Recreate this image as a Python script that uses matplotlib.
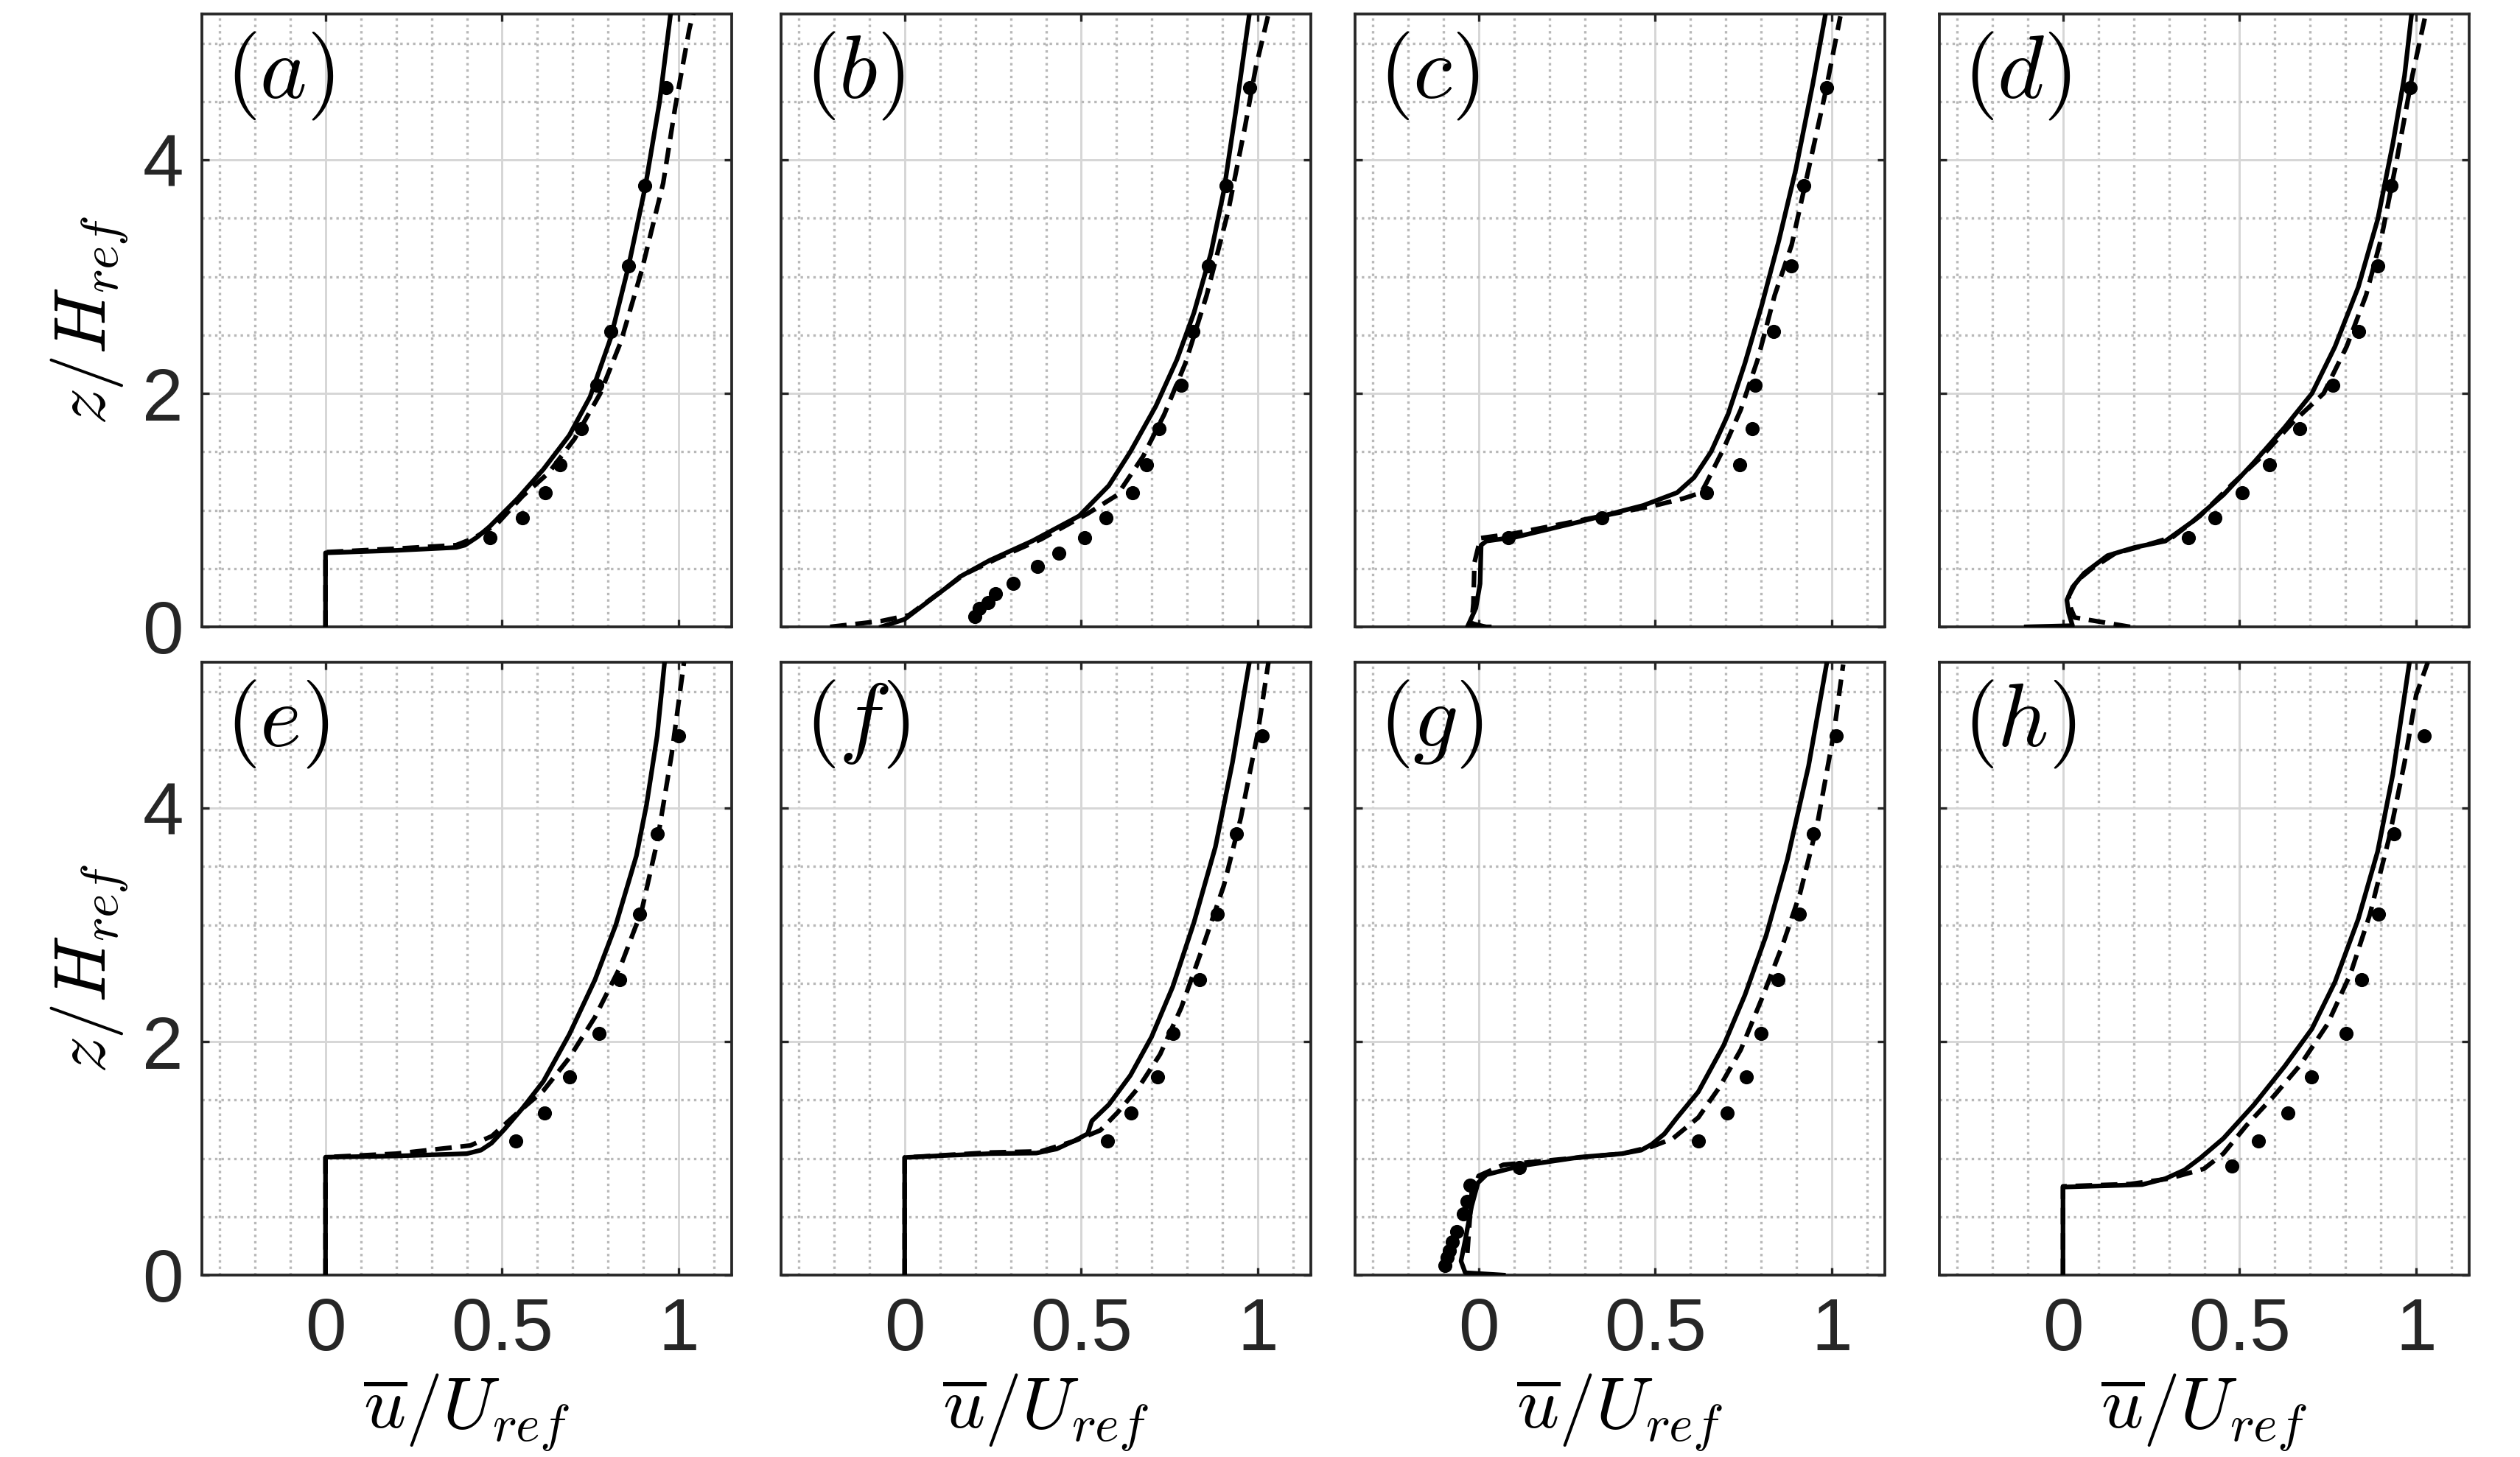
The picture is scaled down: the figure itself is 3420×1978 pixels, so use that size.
import numpy as np
import matplotlib
matplotlib.use("Agg")
import matplotlib.pyplot as plt
from matplotlib.ticker import MultipleLocator

plt.rcParams['font.family'] = ['Liberation Sans', 'DejaVu Sans']
plt.rcParams['mathtext.fontset'] = 'cm'

# ---- data (u/Uref, z/Href) ----
# experimental heights (common measurement levels)
z_exp = [4.62, 3.78, 3.09, 2.53, 2.07, 1.70, 1.39, 1.15, 0.935, 0.765,
         0.634, 0.518, 0.373, 0.283, 0.21, 0.156, 0.09]
z_exp_g = [4.62, 3.78, 3.09, 2.53, 2.07, 1.70, 1.39, 1.15, 0.924, 0.772,
           0.634, 0.525, 0.373, 0.283, 0.21, 0.149, 0.083]

# (a)
a_sol_u = [0, 0, 0.2, 0.37, 0.395, 0.43, 0.465, 0.544, 0.617, 0.69, 0.749, 0.807, 0.858, 0.906, 0.946, 0.977]
a_sol_z = [0, 0.634, 0.655, 0.68, 0.70, 0.77, 0.86, 1.10, 1.35, 1.64, 1.97, 2.47, 3.09, 3.78, 4.50, 5.25]
a_das_u = [0, 0, 0.2, 0.37, 0.42, 0.485, 0.558, 0.632, 0.705, 0.778, 0.836, 0.895, 0.956, 0.99, 1.03, 1.045]
a_das_z = [0, 0.64, 0.67, 0.70, 0.76, 0.88, 1.12, 1.32, 1.61, 2.0, 2.44, 3.05, 3.80, 4.45, 5.12, 5.3]
a_exp_u = [0.965, 0.904, 0.858, 0.807, 0.768, 0.725, 0.664, 0.623, 0.557, 0.465]

# (b)
b_sol_u = [-0.066, 0, 0.072, 0.12, 0.157, 0.241, 0.361, 0.494, 0.578, 0.639, 0.711, 0.771, 0.819, 0.867, 0.904, 0.94, 0.976]
b_sol_z = [0, 0.065, 0.23, 0.34, 0.43, 0.57, 0.735, 0.95, 1.21, 1.50, 1.89, 2.29, 2.69, 3.20, 3.74, 4.47, 5.25]
b_das_u = [-0.211, -0.066, 0.012, 0.084, 0.169, 0.265, 0.386, 0.518, 0.602, 0.675, 0.735, 0.795, 0.855, 0.916, 0.964, 0.994, 1.03]
b_das_z = [0, 0.05, 0.10, 0.26, 0.45, 0.59, 0.75, 0.97, 1.13, 1.46, 1.82, 2.26, 2.84, 3.56, 4.29, 4.79, 5.25]
b_exp_u = [0.976, 0.910, 0.861, 0.817, 0.783, 0.720, 0.684, 0.645, 0.570, 0.510,
           0.436, 0.376, 0.308, 0.258, 0.237, 0.211, 0.199]

# (c)
c_sol_u = [0.03, -0.032, -0.008, 0.004, 0.007, 0.022, 0.106, 0.286, 0.466, 0.562, 0.61, 0.658, 0.706, 0.754, 0.802, 0.85, 0.898, 0.946, 0.982]
c_sol_z = [0.0, 0.0, 0.16, 0.37, 0.70, 0.735, 0.77, 0.90, 1.04, 1.15, 1.28, 1.50, 1.82, 2.26, 2.76, 3.31, 3.92, 4.65, 5.25]
c_das_u = [0.02, -0.02, -0.015, -0.012, 0.005, 0.1, 0.3, 0.5, 0.58, 0.63, 0.646, 0.694, 0.742, 0.79, 0.838, 0.886, 0.934, 0.982, 1.024]
c_das_z = [0.0, 0.03, 0.2, 0.55, 0.76, 0.80, 0.92, 1.04, 1.10, 1.15, 1.24, 1.53, 1.86, 2.29, 2.84, 3.27, 3.92, 4.58, 5.23]
c_exp_u = [0.986, 0.920, 0.886, 0.834, 0.782, 0.774, 0.740, 0.646, 0.348, 0.084]

# (d)
d_sol_u = [-0.104, 0.027, 0.016, 0.011, 0.027, 0.06, 0.126, 0.202, 0.29, 0.366, 0.454, 0.541, 0.628, 0.705, 0.77, 0.836, 0.891, 0.934, 0.967, 0.987]
d_sol_z = [0, 0.01, 0.12, 0.23, 0.34, 0.46, 0.61, 0.68, 0.735, 0.90, 1.13, 1.41, 1.71, 2.0, 2.40, 2.91, 3.49, 4.14, 4.72, 5.25]
d_das_u = [0.19, 0.033, 0.022, 0.016, 0.038, 0.082, 0.148, 0.235, 0.311, 0.388, 0.475, 0.563, 0.65, 0.738, 0.803, 0.858, 0.902, 0.945, 0.989, 1.027]
d_das_z = [0, 0.08, 0.16, 0.26, 0.39, 0.50, 0.63, 0.70, 0.77, 0.95, 1.21, 1.46, 1.75, 2.0, 2.40, 2.84, 3.34, 4.0, 4.72, 5.25]
d_exp_u = [0.984, 0.929, 0.891, 0.838, 0.765, 0.670, 0.585, 0.508, 0.430, 0.355]

# (e)
e_sol_u = [0, 0, 0.2, 0.40, 0.44, 0.47, 0.507, 0.558, 0.617, 0.69, 0.763, 0.822, 0.88, 0.909, 0.939, 0.96]
e_sol_z = [0, 1.01, 1.02, 1.04, 1.07, 1.13, 1.25, 1.43, 1.66, 2.06, 2.53, 3.0, 3.59, 4.03, 4.62, 5.25]
e_das_u = [0, 0, 0.2, 0.41, 0.471, 0.544, 0.617, 0.69, 0.763, 0.836, 0.895, 0.939, 0.98, 1.015]
e_das_z = [0, 1.01, 1.04, 1.11, 1.19, 1.39, 1.58, 1.86, 2.21, 2.65, 3.12, 3.71, 4.46, 5.25]
e_exp_u = [1.0, 0.939, 0.890, 0.833, 0.775, 0.690, 0.620, 0.538]

# (f)
f_sol_u = [0, 0, 0.12, 0.241, 0.373, 0.43, 0.48, 0.518, 0.53, 0.578, 0.639, 0.699, 0.759, 0.819, 0.88, 0.928, 0.976]
f_sol_z = [0, 1.007, 1.025, 1.04, 1.045, 1.08, 1.15, 1.21, 1.32, 1.46, 1.71, 2.04, 2.47, 3.02, 3.67, 4.39, 5.25]
f_das_u = [0, 0, 0.241, 0.386, 0.482, 0.554, 0.602, 0.663, 0.723, 0.783, 0.843, 0.904, 0.952, 1.0, 1.03]
f_das_z = [0, 1.007, 1.05, 1.06, 1.15, 1.24, 1.39, 1.61, 1.89, 2.29, 2.80, 3.34, 3.92, 4.65, 5.25]
f_exp_u = [1.012, 0.940, 0.886, 0.835, 0.759, 0.717, 0.641, 0.575]

# (g)
g_sol_u = [0.07, -0.038, -0.05, -0.038, -0.02, -0.002, 0.022, 0.118, 0.286, 0.406, 0.46, 0.49, 0.526, 0.562, 0.622, 0.694, 0.754, 0.814, 0.874, 0.934, 0.986]
g_sol_z = [0, 0.02, 0.12, 0.30, 0.59, 0.79, 0.86, 0.935, 1.01, 1.04, 1.07, 1.12, 1.21, 1.35, 1.57, 1.97, 2.40, 2.91, 3.56, 4.36, 5.25]
g_das_u = [-0.032, -0.02, 0.0, 0.07, 0.226, 0.406, 0.49, 0.55, 0.622, 0.682, 0.742, 0.802, 0.862, 0.91, 0.958, 1.006, 1.032]
g_das_z = [0.19, 0.70, 0.85, 0.945, 0.99, 1.04, 1.10, 1.17, 1.35, 1.61, 1.93, 2.37, 2.84, 3.27, 3.85, 4.65, 5.23]
g_exp_u = [1.012, 0.948, 0.908, 0.848, 0.80, 0.757, 0.703, 0.622, 0.115, -0.024,
           -0.032, -0.044, -0.062, -0.074, -0.083, -0.089, -0.095]

# (h)
h_sol_u = [0, 0, 0.126, 0.224, 0.29, 0.344, 0.388, 0.454, 0.541, 0.628, 0.705, 0.77, 0.836, 0.891, 0.934, 0.981]
h_sol_z = [0, 0.754, 0.765, 0.775, 0.826, 0.90, 1.0, 1.17, 1.46, 1.79, 2.11, 2.51, 3.05, 3.63, 4.29, 5.25]
h_das_u = [0, 0, 0.191, 0.30, 0.399, 0.454, 0.519, 0.596, 0.672, 0.749, 0.814, 0.869, 0.923, 0.967, 1.0, 1.033]
h_das_z = [0, 0.76, 0.78, 0.826, 0.91, 1.04, 1.28, 1.53, 1.80, 2.15, 2.58, 3.09, 3.74, 4.39, 4.97, 5.25]
h_exp_u = [1.022, 0.937, 0.894, 0.845, 0.801, 0.703, 0.637, 0.554, 0.479]

panels = [
    ('a', a_sol_u, a_sol_z, a_das_u, a_das_z, a_exp_u, z_exp),
    ('b', b_sol_u, b_sol_z, b_das_u, b_das_z, b_exp_u, z_exp),
    ('c', c_sol_u, c_sol_z, c_das_u, c_das_z, c_exp_u, z_exp),
    ('d', d_sol_u, d_sol_z, d_das_u, d_das_z, d_exp_u, z_exp),
    ('e', e_sol_u, e_sol_z, e_das_u, e_das_z, e_exp_u, z_exp),
    ('f', f_sol_u, f_sol_z, f_das_u, f_das_z, f_exp_u, z_exp),
    ('g', g_sol_u, g_sol_z, g_das_u, g_das_z, g_exp_u, z_exp_g),
    ('h', h_sol_u, h_sol_z, h_das_u, h_das_z, h_exp_u, z_exp),
]

xticks = [0, 0.5, 1]
xticklabels = ['0', '0.5', '1']
yticks = [0, 2, 4]
yticklabels = ['0', '2', '4']

# ---- layout ----
W, H = 3420, 1978
fig = plt.figure(figsize=(W / 300, H / 300), dpi=300)

col_left = [274, 1060, 1839, 2632]
row_top = [19, 899]
ax_w, ax_h = 719, 832
dark = '#262626'

for i, (lab, su, sz, du, dz, eu, ez) in enumerate(panels):
    r, c = divmod(i, 4)
    ax = fig.add_axes([col_left[c] / W, 1 - (row_top[r] + ax_h) / H, ax_w / W, ax_h / H])

    ax.plot(su, sz, color='k', lw=1.5, solid_joinstyle='round', zorder=3)
    ax.plot(du, dz, color='k', lw=1.5, ls=(0, (3.6, 1.9)), zorder=3)
    ax.plot(eu, ez[:len(eu)], 'o', color='k', ms=4.6, mew=0, zorder=4)

    ax.set_xlim(-0.35, 1.15)
    ax.set_ylim(0, 5.25)
    ax.set_xticks(xticks)
    ax.set_yticks(yticks)
    ax.xaxis.set_minor_locator(MultipleLocator(0.1))
    ax.yaxis.set_minor_locator(MultipleLocator(0.5))

    ax.set_axisbelow(True)
    ax.grid(True, which='major', color='#d6d6d6', lw=0.7, ls='-')
    ax.grid(True, which='minor', color='#b8b8b8', lw=0.8, ls=(0, (1, 1.6)))

    ax.tick_params(which='major', direction='in', top=True, right=True, length=2.3,
                   width=0.8, color=dark, labelsize=24, labelcolor=dark)
    ax.tick_params(axis='x', which='major', pad=7)
    ax.tick_params(axis='y', which='major', pad=6)
    ax.tick_params(which='minor', length=0)
    for sp in ax.spines.values():
        sp.set_color(dark)
        sp.set_linewidth(0.9)

    if r == 1:
        ax.set_xticklabels(xticklabels)
        ax.set_xlabel(r'$\overline{u}/U_{ref}$', fontsize=24, labelpad=2)
    else:
        ax.set_xticklabels([])
    if c == 0:
        ax.set_yticklabels(yticklabels)
        ax.set_ylabel(r'$z/H_{ref}$', fontsize=24, labelpad=4)
    else:
        ax.set_yticklabels([])

    ax.text(0.045, 0.975, r'$(%s)$' % lab, transform=ax.transAxes,
            ha='left', va='top', fontsize=29, color='k')

fig.savefig('out.png', dpi=300)
